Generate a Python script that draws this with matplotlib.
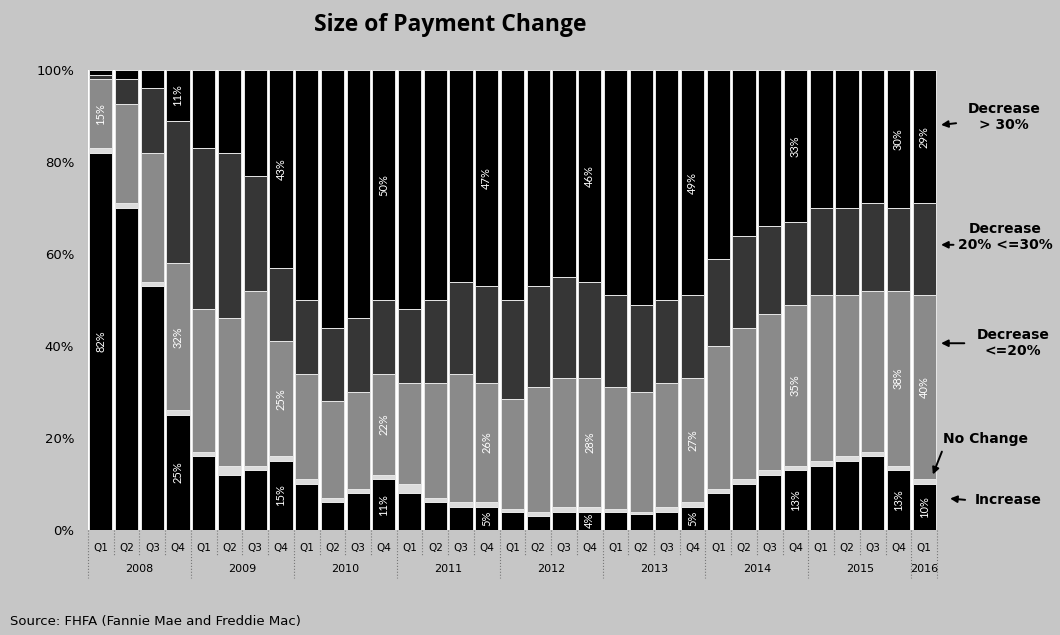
import matplotlib.pyplot as plt
from matplotlib.transforms import blended_transform_factory
import numpy as np

plt.rcParams['font.family'] = ['DejaVu Sans']

quarters = ['Q1', 'Q2', 'Q3', 'Q4'] * 8 + ['Q1']
years = ['2008', '2009', '2010', '2011', '2012', '2013', '2014', '2015', '2016']

# share of modified loans by size of payment change (%), 2008Q1 .. 2016Q1
increase = [82, 70, 53, 25, 16, 12, 13, 15, 10, 6, 8, 11, 8, 6, 5, 5,
            4, 3, 4, 4, 4, 3.5, 4, 5, 8, 10, 12, 13, 14, 15, 16, 13, 10]
no_change = [1, 1, 1, 1, 1, 2, 1, 1, 1, 1, 1, 1, 2, 1, 1, 1,
             0.5, 1, 1, 1, 0.5, 0.5, 1, 1, 1, 1, 1, 1, 1, 1, 1, 1, 1]
dec_le20 = [15, 21.5, 28, 32, 31, 32, 38, 25, 23, 21, 21, 22, 22, 25, 28, 26,
            24, 27, 28, 28, 26.5, 26, 27, 27, 31, 33, 34, 35, 36, 35, 35, 38, 40]
dec_20_30 = [1, 5.5, 14, 31, 35, 36, 25, 16, 16, 16, 16, 16, 16, 18, 20, 21,
             21.5, 22, 22, 21, 20, 19, 18, 18, 19, 20, 19, 18, 19, 19, 19, 18, 20]
dec_gt30 = [1, 2, 4, 11, 17, 18, 23, 43, 50, 56, 54, 50, 52, 50, 46, 47,
            50, 47, 45, 46, 49, 51, 50, 49, 41, 36, 34, 33, 30, 30, 29, 30, 29]

series = [increase, no_change, dec_le20, dec_20_30, dec_gt30]
colors = ['#000000', '#dcdcdc', '#8a8a8a', '#363636', '#000000']

# which segments get a value printed inside the bar
labelled = {0: (0, 2), 3: (0, 2, 4), 7: (0, 2, 4), 11: (0, 2, 4), 15: (0, 2, 4),
            19: (0, 2, 4), 23: (0, 2, 4), 27: (0, 2, 4), 31: (0, 2, 4), 32: (0, 2, 4)}

bg = '#c6c6c6'
fig = plt.figure(figsize=(10.6, 6.35), dpi=100, facecolor=bg)
ax = fig.add_axes([88 / 1060, 105 / 635, 849 / 1060, 460 / 635])
ax.set_facecolor('white')

x = np.arange(len(quarters))
bottom = np.zeros(len(x))
for vals, col in zip(series, colors):
    vals = np.array(vals, dtype=float)
    ax.bar(x, vals, bottom=bottom, width=0.9, color=col,
           edgecolor='#e6e6e6', linewidth=0.7)
    bottom += vals

for i, segs in labelled.items():
    base = 0.0
    for k, vals in enumerate(series):
        v = vals[i]
        if k in segs:
            ax.text(i, base + v / 2, f'{v:.0f}%', rotation=90, ha='center',
                    va='center', color='white', fontsize=8, family='Lato')
        base += v

ax.set_xlim(-0.5, len(x) - 0.5)
ax.set_ylim(0, 100)
ax.set_yticks(range(0, 101, 20))
ax.set_yticklabels([f'{t}%' for t in range(0, 101, 20)], fontsize=9.5)
ax.tick_params(axis='y', length=0, pad=10)
ax.set_xticks([])
for s in ax.spines.values():
    s.set_visible(False)

# two-level category axis: quarters, then years
trans = blended_transform_factory(ax.transData, ax.transAxes)
for i, q in enumerate(quarters):
    ax.text(i, -18 / 460, q, transform=trans, ha='center', va='center', fontsize=7.5)
for j, yr in enumerate(years):
    idx = x[j * 4:(j + 1) * 4]
    ax.text(idx.mean(), -39 / 460, yr, transform=trans, ha='center', va='center',
            fontsize=8)
for b in np.arange(-0.5, len(x), 1.0):
    depth = 48 / 460 if (b + 0.5) % 4 == 0 or b == len(x) - 0.5 else 26 / 460
    ax.plot([b, b], [0, -depth], transform=trans, clip_on=False,
            ls=':', lw=0.8, color='#777777')

fig.text(450 / 1060, 1 - 25 / 635, 'Size of Payment Change', ha='center', va='center',
         fontsize=16.5, fontweight='bold', family='Open Sans')

# callouts on the right
arrow = dict(arrowstyle='-|>', color='black', lw=1.4, mutation_scale=10)
callouts = [
    ('Decrease\n> 30%', (35.1, 89.8), (33.35, 88.5), (32.55, 88.0)),
    ('Decrease\n20% <=30%', (35.15, 63.7), (33.25, 62.0), (32.55, 62.0)),
    ('Decrease\n<=20%', (35.45, 40.6), (33.67, 40.6), (32.55, 40.6)),
    ('No Change', (34.4, 19.8), (32.73, 17.6), (32.3, 11.5)),
    ('Increase', (35.25, 6.5), (33.7, 6.5), (32.9, 6.9)),
]
for txt, tpos, start, end in callouts:
    ax.text(*tpos, txt, ha='center', va='center', fontsize=10, fontweight='bold',
            linespacing=1.15, clip_on=False)
    ax.annotate('', xy=end, xytext=start, arrowprops=arrow, annotation_clip=False)

fig.text(10 / 1060, 1 - 622 / 635, 'Source: FHFA (Fannie Mae and Freddie Mac)',
         ha='left', va='center', fontsize=9.5)

fig.savefig('out.png', dpi=100, facecolor=bg)
